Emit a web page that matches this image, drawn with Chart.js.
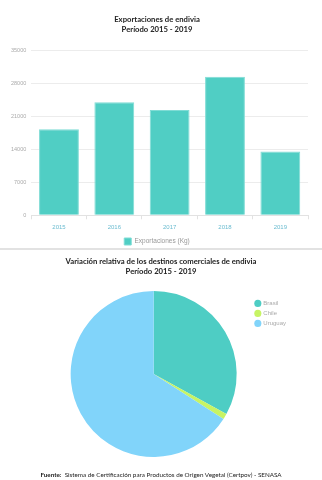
<!DOCTYPE html>
<html>
<head>
<meta charset="utf-8">
<script src="https://cdn.jsdelivr.net/npm/chart.js@4"></script>
<style>
  body { margin: 0; background: #fff; width: 322px; }
  #barBox { position: absolute; left: 0; top: 0; width: 322px; height: 255px; }
  #sep { position: absolute; left: 0; top: 248px; width: 322px; height: 2px; background: #e2e2e2; }
  #pieTitle { position: absolute; left: 0; top: 250px; width: 322px; padding-top: 6px; text-align: center;
              font-family: Lato, sans-serif; font-weight: bold; font-size: 7.7px; line-height: 10px; color: #222; }
  #pieBox { position: absolute; left: 0; top: 278px; width: 322px; height: 188px; }
  #fuente { position: absolute; left: 0; top: 471px; width: 322px; text-align: center;
            font-family: Lato, sans-serif; font-size: 6.3px; color: #222; }
</style>
</head>
<body>
<div id="barBox"><canvas id="barChart"></canvas></div>
<div id="sep"></div>
<div id="pieTitle">Variación relativa de los destinos comerciales de endivia<br>Período 2015 - 2019</div>
<div id="pieBox"><canvas id="pieChart"></canvas></div>
<div id="fuente"><b>Fuente:</b>&nbsp; Sistema de Certificación para Productos de Origen Vegetal (Certpov) - SENASA</div>
<script>
// datos exportaciones (Kg)
const years = ["2015", "2016", "2017", "2018", "2019"];
const exportKg = [18300, 24100, 22400, 29500, 13600];
const yTicks = [0, 7000, 14000, 21000, 28000, 35000];

// destinos (%)
const destinos = ["Brasil", "Chile", "Uruguay"];
const destinoPct = [33.0, 1.1, 65.9];

const teal = '#50cec4';

new Chart(document.getElementById('barChart').getContext('2d'), {
    type: 'bar',
    data: {
        labels: years,
        datasets: [{
            label: 'Exportaciones (Kg)',
            data: exportKg,
            backgroundColor: teal,
            borderColor: '#7fdcd5',
            borderWidth: 1
        }]
    },
    options: {
        responsive: true,
        maintainAspectRatio: false,
        animation: false,
        layout: { padding: { left: 6, right: 14, top: 0, bottom: 0 } },
        plugins: {
            title: {
                display: true,
                text: ['Exportaciones de endivia', 'Período 2015 - 2019'],
                color: '#222',
                font: { family: 'Lato', size: 7.7, weight: 'bold', lineHeight: 1.36 },
                padding: { top: 14, bottom: 16 }
            },
            legend: {
                position: 'bottom',
                labels: {
                    color: '#999',
                    boxWidth: 7,
                    boxHeight: 7,
                    padding: 3.5,
                    font: { family: 'Liberation Sans', size: 6.5 }
                }
            },
            tooltip: { enabled: false }
        },
        scales: {
            x: {
                grid: { drawOnChartArea: false, tickLength: 4, color: '#e2e2e2' },
                border: { color: '#e2e2e2' },
                ticks: { color: '#6bbcd0', padding: 4, font: { family: 'Liberation Sans', size: 6 } }
            },
            y: {
                min: 0,
                max: 35000,
                afterBuildTicks: function (axis) {
                    axis.ticks = yTicks.map(function (v) { return { value: v }; });
                },
                grid: { color: '#ececec', drawTicks: false },
                border: { display: false },
                ticks: {
                    color: '#aaa',
                    padding: 5,
                    font: { family: 'Liberation Sans', size: 5.5 },
                    callback: function (v) { return String(v); }
                }
            }
        }
    }
});

new Chart(document.getElementById('pieChart').getContext('2d'), {
    type: 'pie',
    data: {
        labels: destinos,
        datasets: [{
            data: destinoPct,
            backgroundColor: ['#4ecdc4', '#c7f464', '#81d4fa'],
            borderWidth: 0
        }]
    },
    options: {
        responsive: true,
        maintainAspectRatio: false,
        animation: false,
        layout: { padding: { left: 56, right: 26, top: 13, bottom: 9 } },
        plugins: {
            legend: {
                position: 'right',
                align: 'start',
                title: { display: true, text: ' ', font: { size: 4.5 }, padding: 0 },
                labels: {
                    color: '#aaa',
                    usePointStyle: true,
                    pointStyle: 'circle',
                    boxWidth: 5,
                    boxHeight: 5,
                    padding: 4,
                    font: { family: 'Liberation Sans', size: 6 }
                }
            },
            tooltip: { enabled: false }
        }
    }
});
</script>
</body>
</html>
